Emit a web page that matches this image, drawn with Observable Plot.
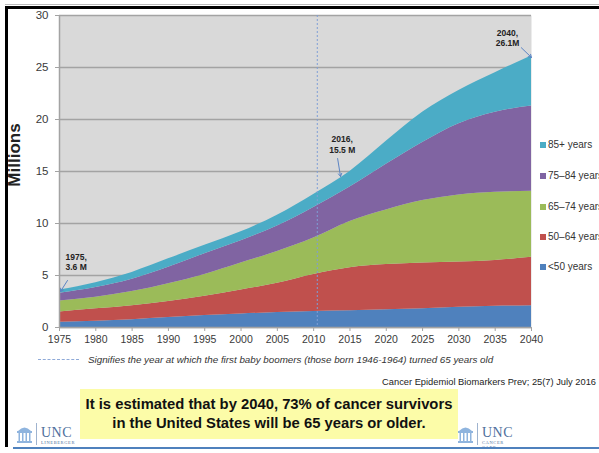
<!DOCTYPE html>
<html>
<head>
<meta charset="utf-8">
<script src="https://cdn.jsdelivr.net/npm/d3@7"></script>
<script src="https://cdn.jsdelivr.net/npm/@observablehq/plot@0.6"></script>
<style>
  html, body { margin: 0; padding: 0; }
  body { width: 599px; height: 453px; overflow: hidden; background: #fff; position: relative;
         font-family: "Liberation Sans", Arial, sans-serif; }
  #chart { position: absolute; left: 0; top: 0; }
  .bar-thin { position: absolute; left: 5px; top: 4px; width: 594px; height: 1px; background: #bbb; z-index: 5; }
  .bar-top { position: absolute; left: 5px; top: 6px; width: 594px; height: 3px; background: #000; z-index: 5; }
  .bar-left { position: absolute; left: 5px; top: 6px; width: 3px; height: 441px; background: #000; z-index: 5; }
  .bar-bottom { position: absolute; left: 13px; top: 447px; width: 586px; height: 2px; background: #4f81bd; z-index: 5; }
  .ytitle { position: absolute; left: 15px; top: 155px; transform: translate(-50%, -50%) rotate(-90deg);
            font-weight: bold; font-size: 17px; color: #222; white-space: nowrap; }
  .legend { position: absolute; left: 540px; top: 0; font-size: 10px; color: #333; white-space: nowrap; }
  .legend .item { position: absolute; left: 0; height: 12px; line-height: 12px; }
  .legend .sw { display: inline-block; width: 6px; height: 6px; margin-right: 2px; vertical-align: 0px; }
  .note { position: absolute; left: 38px; top: 354px; font-size: 9.8px; font-style: italic; color: #333; white-space: nowrap; }
  .note .dash { display: inline-block; width: 41px; border-top: 1px dashed #8faad8; vertical-align: 3px; margin-right: 9px; }
  .cite { position: absolute; right: 3px; top: 377px; font-size: 9.3px; color: #222; white-space: nowrap; }
  .callout { position: absolute; left: 80px; top: 389px; width: 378px; height: 50px; background: #fcfca8;
             font-weight: bold; font-size: 14.8px; line-height: 19px; color: #111; text-align: center;
             box-sizing: border-box; padding-top: 6px; }
  .logo { position: absolute; top: 423px; height: 24px; color: #4e6f9c; }
  .logo svg { position: absolute; left: 0; top: 1px; }
  .logo .sep { position: absolute; left: 20px; top: 0; width: 1px; height: 22px; background: #9fb3cf; }
  .logo .unc { position: absolute; left: 25px; top: 2px; font-family: "Liberation Serif", serif; font-size: 14px; letter-spacing: 0.5px; }
  .logo .sub { position: absolute; left: 25px; top: 17px; font-family: "Liberation Serif", serif; font-size: 4.5px; letter-spacing: 0.6px; }
</style>
</head>
<body>
<div id="chart"></div>
<div class="bar-thin"></div>
<div class="bar-top"></div>
<div class="bar-left"></div>
<div class="bar-bottom"></div>
<div class="ytitle">Millions</div>
<div class="legend" id="legend"></div>
<div class="note"><span class="dash"></span>Signifies the year at which the first baby boomers (those born 1946-1964) turned 65 years old</div>
<div class="cite">Cancer Epidemiol Biomarkers Prev; 25(7) July 2016</div>
<div class="callout">It is estimated that by 2040, 73% of cancer survivors<br>in the United States will be 65 years or older.</div>
<div class="logo" style="left:16px">
  <svg width="17" height="20" viewBox="0 0 17 20"><path d="M2 7 Q8.5 0 15 7 Z" fill="#8fb4de"/><rect x="1" y="7" width="15" height="2" fill="#8fb4de"/><rect x="2.5" y="9" width="1.5" height="8" fill="#8fb4de"/><rect x="6" y="9" width="1.5" height="8" fill="#8fb4de"/><rect x="9.5" y="9" width="1.5" height="8" fill="#8fb4de"/><rect x="13" y="9" width="1.5" height="8" fill="#8fb4de"/><rect x="1" y="17" width="15" height="2" fill="#8fb4de"/></svg>
  <div class="sep"></div><div class="unc">UNC</div><div class="sub">LINEBERGER</div>
</div>
<div class="logo" style="left:457px">
  <svg width="17" height="20" viewBox="0 0 17 20"><path d="M2 7 Q8.5 0 15 7 Z" fill="#8fb4de"/><rect x="1" y="7" width="15" height="2" fill="#8fb4de"/><rect x="2.5" y="9" width="1.5" height="8" fill="#8fb4de"/><rect x="6" y="9" width="1.5" height="8" fill="#8fb4de"/><rect x="9.5" y="9" width="1.5" height="8" fill="#8fb4de"/><rect x="13" y="9" width="1.5" height="8" fill="#8fb4de"/><rect x="1" y="17" width="15" height="2" fill="#8fb4de"/></svg>
  <div class="sep"></div><div class="unc">UNC</div><div class="sub">CANCER CARE</div>
</div>
<script>
// ---- Data (millions of cancer survivors by age group) ----
const years = [1975, 1980, 1985, 1990, 1995, 2000, 2005, 2010, 2015, 2020, 2025, 2030, 2035, 2040];
const ageGroups = ["<50 years", "50–64 years", "65–74 years", "75–84 years", "85+ years"];
const under50   = [0.5, 0.6, 0.75, 0.95, 1.15, 1.3, 1.45, 1.55, 1.6, 1.7, 1.8, 1.95, 2.05, 2.1];
const age50_64  = [1.0, 1.2, 1.35, 1.55, 1.85, 2.3, 2.8, 3.55, 4.15, 4.35, 4.4, 4.35, 4.4, 4.65];
const age65_74  = [1.05, 1.1, 1.35, 1.7, 2.1, 2.6, 3.05, 3.5, 4.45, 5.25, 6.0, 6.45, 6.55, 6.35];
const age75_84  = [0.75, 0.95, 1.2, 1.6, 2.0, 2.15, 2.45, 2.95, 3.3, 4.4, 5.6, 6.85, 7.7, 8.2];
const age85plus = [0.3, 0.45, 0.65, 0.8, 0.8, 0.85, 1.05, 1.25, 1.5, 2.2, 2.9, 3.2, 3.8, 4.8];
const groupColors = ["#4f81bd", "#c0504d", "#9bbb59", "#8064a2", "#4bacc6"];
const xTicks = [1975, 1980, 1985, 1990, 1995, 2000, 2005, 2010, 2015, 2020, 2025, 2030, 2035, 2040];
const yTicks = [0, 5, 10, 15, 20, 25, 30];
const boomerYear = [2010.5];
const annotYears = [1975, 2016, 2040];
const annotTotals = [3.6, 15.5, 26.1];
const annotLabels = ["1975,\n3.6 M", "2016,\n15.5 M", "2040,\n26.1M"];

const series = [under50, age50_64, age65_74, age75_84, age85plus];
const rows = years.flatMap((yr, i) => ageGroups.map((g, j) => ({year: yr, group: g, value: series[j][i]})));
const annots = annotYears.map((yr, i) => ({year: yr, value: annotTotals[i], label: annotLabels[i]}));

const gridColor = "#a3a3a3";
const arrowColor = "#5b84c4";

const chart = Plot.plot({
  width: 599,
  height: 345,
  marginLeft: 59, marginRight: 68, marginTop: 15, marginBottom: 18,
  style: {fontFamily: "'Liberation Sans', Arial, sans-serif", background: "transparent", overflow: "visible"},
  x: {domain: [1975, 2040]},
  y: {domain: [0, 30]},
  color: {domain: ageGroups, range: groupColors},
  marks: [
    Plot.frame({fill: "#d9d9d9", stroke: null}),
    Plot.gridY(yTicks, {stroke: gridColor, strokeOpacity: 1, strokeWidth: 1.5}),
    Plot.areaY(rows, {x: "year", y: "value", z: "group", fill: "group", order: ageGroups, curve: "monotone-x"}),
    Plot.ruleX(boomerYear, {stroke: "#7f9fd6", strokeWidth: 1, strokeDasharray: "2,2"}),
    Plot.ruleY([0], {stroke: gridColor, strokeWidth: 1.5}),
    Plot.ruleX([1975], {stroke: gridColor, strokeWidth: 1.5}),
    Plot.axisX({ticks: xTicks, tickFormat: d => String(d), tickSize: 4, tickPadding: 4, fontSize: 10.5,
                stroke: gridColor, fill: "#3a3a3a", label: null}),
    Plot.axisY({ticks: yTicks, tickFormat: d => String(d), tickSize: 4, tickPadding: 7, fontSize: 11.5,
                stroke: gridColor, fill: "#3a3a3a", label: null}),
    // annotations
    Plot.text(annots.filter(d => d.year === 1975), {x: "year", y: "value", text: "label", dx: 6, dy: -28,
      textAnchor: "start", fontSize: 8.5, fontWeight: "bold", fill: "#222", lineHeight: 1.2}),
    Plot.text(annots.filter(d => d.year === 2016), {x: "year", y: "value", text: "label", dx: -15, dy: -22,
      textAnchor: "middle", fontSize: 8.5, fontWeight: "bold", fill: "#222", lineHeight: 1.2}),
    Plot.text(annots.filter(d => d.year === 2040), {x: "year", y: "value", text: "label", dx: -24, dy: -18,
      textAnchor: "middle", fontSize: 8.5, fontWeight: "bold", fill: "#222", lineHeight: 1.2}),
    Plot.arrow(annots.filter(d => d.year === 1975), {x1: d => d.year + 1.1, y1: d => d.value + 0.92,
      x2: d => d.year + 0.14, y2: d => d.value - 0.14, stroke: arrowColor, strokeWidth: 1, headLength: 5}),
    Plot.arrow(annots.filter(d => d.year === 2016), {x1: d => d.year - 2.7, y1: d => d.value + 0.75,
      x2: d => d.year - 2.3, y2: d => d.value - 0.98, stroke: arrowColor, strokeWidth: 1, headLength: 5}),
    Plot.arrow(annots.filter(d => d.year === 2040), {x1: d => d.year - 1.4, y1: d => d.value + 0.8,
      x2: d => d.year, y2: d => d.value - 0.14, stroke: arrowColor, strokeWidth: 1, headLength: 5})
  ]
});
document.getElementById("chart").appendChild(chart);

// legend (top group first)
const legendTops = {"85+ years": 139, "75–84 years": 170, "65–74 years": 201, "50–64 years": 231, "<50 years": 261};
const legend = document.getElementById("legend");
ageGroups.slice().reverse().forEach(g => {
  const item = document.createElement("div");
  item.className = "item";
  item.style.top = legendTops[g] + "px";
  const sw = document.createElement("span");
  sw.className = "sw";
  sw.style.background = groupColors[ageGroups.indexOf(g)];
  item.appendChild(sw);
  item.appendChild(document.createTextNode(g));
  legend.appendChild(item);
});
</script>
</body>
</html>
